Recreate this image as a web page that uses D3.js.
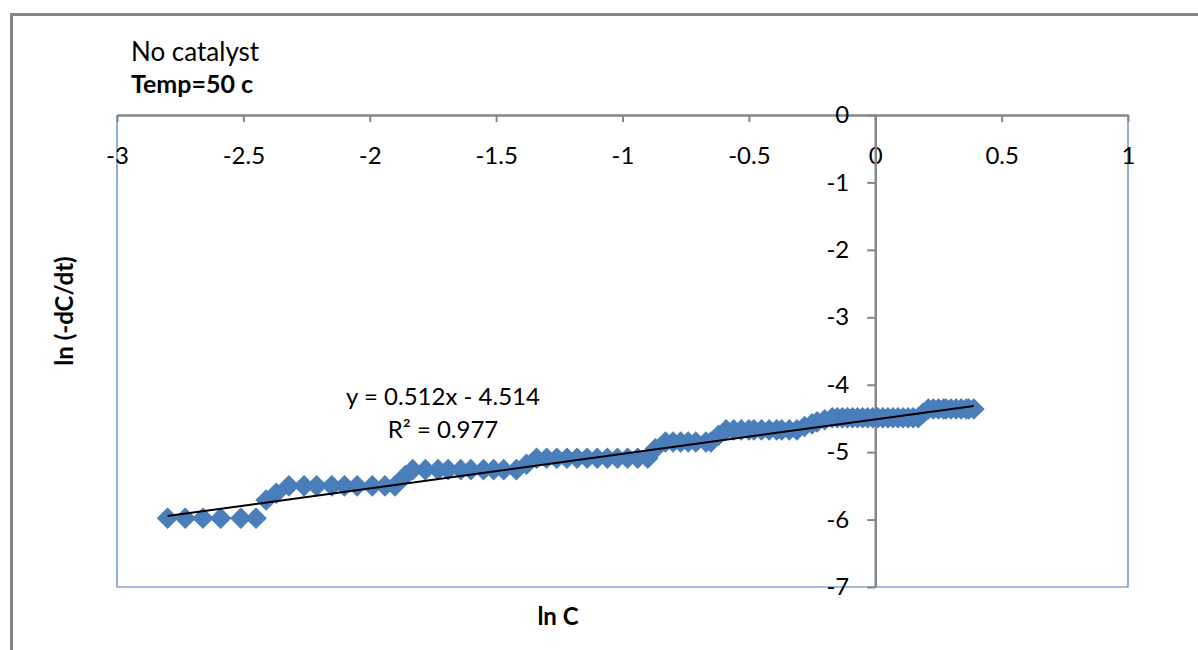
<!DOCTYPE html>
<html>
<head>
<meta charset="utf-8">
<script src="https://cdn.jsdelivr.net/npm/d3@7"></script>
<style>
  body { margin: 0; background: #fff; }
  svg { display: block; font-family: Lato, "Open Sans", sans-serif; }
</style>
</head>
<body>
<svg width="1198" height="650"></svg>
<script>
// ln C (x) and ln(-dC/dt) (y)
const lnC = [-2.80,-2.73,-2.66,-2.59,-2.51,-2.45,
  -2.41,-2.37,
  -2.32,-2.26,-2.21,-2.15,-2.10,-2.05,-1.99,-1.94,-1.90,
  -1.86,
  -1.83,-1.78,-1.73,-1.69,-1.64,-1.60,-1.55,-1.51,-1.47,-1.42,
  -1.38,
  -1.34,-1.30,-1.26,-1.22,-1.18,-1.14,-1.10,-1.06,-1.02,-0.98,-0.94,-0.90,
  -0.87,
  -0.83,-0.80,-0.77,-0.74,-0.71,-0.67,-0.65,
  -0.62,
  -0.59,-0.56,-0.53,-0.50,-0.48,-0.45,-0.42,-0.39,-0.37,-0.34,-0.31,
  -0.28,-0.25,-0.23,-0.20,
  -0.17,-0.15,-0.13,-0.11,-0.09,-0.07,-0.05,-0.03,-0.01,0.01,0.03,0.05,0.07,0.09,0.11,0.13,0.15,0.17,
  0.19,
  0.21,0.23,0.25,0.27,0.28,0.30,0.32,0.34,0.36,0.37,0.39];
const lnRate = [-5.98,-5.98,-5.98,-5.98,-5.98,-5.98,
  -5.71,-5.61,
  -5.50,-5.50,-5.50,-5.50,-5.50,-5.50,-5.50,-5.50,-5.50,
  -5.35,
  -5.26,-5.26,-5.26,-5.26,-5.26,-5.26,-5.26,-5.26,-5.26,-5.26,
  -5.18,
  -5.09,-5.09,-5.09,-5.09,-5.09,-5.09,-5.09,-5.09,-5.09,-5.09,-5.09,-5.09,
  -4.95,
  -4.85,-4.85,-4.85,-4.85,-4.85,-4.85,-4.85,
  -4.75,
  -4.67,-4.67,-4.67,-4.67,-4.67,-4.67,-4.67,-4.67,-4.67,-4.67,-4.67,
  -4.62,-4.58,-4.55,-4.52,
  -4.49,-4.49,-4.49,-4.49,-4.49,-4.49,-4.49,-4.49,-4.49,-4.49,-4.49,-4.49,-4.49,-4.49,-4.49,-4.49,-4.49,-4.49,
  -4.42,
  -4.36,-4.36,-4.36,-4.36,-4.36,-4.36,-4.36,-4.36,-4.36,-4.36,-4.36];

const xTicks = [-3,-2.5,-2,-1.5,-1,-0.5,0,0.5,1];
const yTicks = [0,-1,-2,-3,-4,-5,-6,-7];
const slope = 0.512, intercept = -4.514;
const eqLabel = "y = 0.512x - 4.514", r2Label = "R² = 0.977";

const svg = d3.select("svg");
const blue = "#4a7ebb", grey = "#868686";

// outer chart frame (runs off the page right/bottom)
svg.append("rect").attr("x",11.5).attr("y",14.5).attr("width",1300).attr("height",800)
  .attr("fill","none").attr("stroke",grey).attr("stroke-width",3);

const x = d3.scaleLinear().domain([-3,1]).range([117,1128]);
const y = d3.scaleLinear().domain([-7,0]).range([587,115]);

// plot area border (left, right, bottom in blue)
svg.append("path")
  .attr("d",`M${x(-3)},${y(0)}V${y(-7)}H${x(1)}V${y(0)}`)
  .attr("fill","none").attr("stroke",blue).attr("stroke-width",1.2);

// x axis along the top
const gx = svg.append("g").attr("transform",`translate(0,${y(0)})`)
  .call(d3.axisBottom(x).tickValues(xTicks).tickSize(7).tickSizeOuter(0).tickPadding(25).tickFormat(d=>String(d)));
// y axis through x = 0
const gy = svg.append("g").attr("transform",`translate(${x(0)},0)`)
  .call(d3.axisLeft(y).tickValues(yTicks).tickSize(8).tickSizeOuter(0).tickPadding(18).tickFormat(d=>String(d)));

[gx,gy].forEach(g=>{
  g.select(".domain").attr("stroke",grey).attr("stroke-width",2.5);
  g.selectAll(".tick line").attr("stroke",grey).attr("stroke-width",2);
  g.selectAll(".tick text").attr("fill","#000").style("font-size","24px").style("font-family","Lato, sans-serif");
});

// markers
const pts = lnC.map((v,i)=>({x:v,y:lnRate[i]}));
const sym = d3.symbol().type(d3.symbolSquare).size(205);
svg.append("g").selectAll("path").data(pts).enter().append("path")
  .attr("d",sym)
  .attr("transform",d=>`translate(${x(d.x)},${y(d.y)}) rotate(45)`)
  .attr("fill",blue).attr("stroke",blue).attr("stroke-width",1);

// linear trendline
const xExt = d3.extent(lnC);
svg.append("line")
  .attr("x1",x(xExt[0])).attr("y1",y(slope*xExt[0]+intercept))
  .attr("x2",x(xExt[1])).attr("y2",y(slope*xExt[1]+intercept))
  .attr("stroke","#000").attr("stroke-width",2);

// texts
svg.append("text").attr("x",131).attr("y",61).style("font-size","26px").text("No catalyst");
svg.append("text").attr("x",131).attr("y",93).style("font-size","25px").style("font-weight","bold").text("Temp=50 c");
svg.append("text").attr("x",443).attr("y",405).attr("text-anchor","middle").style("font-size","24px").text(eqLabel);
svg.append("text").attr("x",443).attr("y",438).attr("text-anchor","middle").style("font-size","24px").text(r2Label);
svg.append("text").attr("x",558).attr("y",625).attr("text-anchor","middle").style("font-size","24px").style("font-weight","bold").text("ln C");
svg.append("text").attr("transform","translate(73,311) rotate(-90)").attr("text-anchor","middle")
  .style("font-size","24px").style("font-weight","bold").text("ln (-dC/dt)");
</script>
</body>
</html>
